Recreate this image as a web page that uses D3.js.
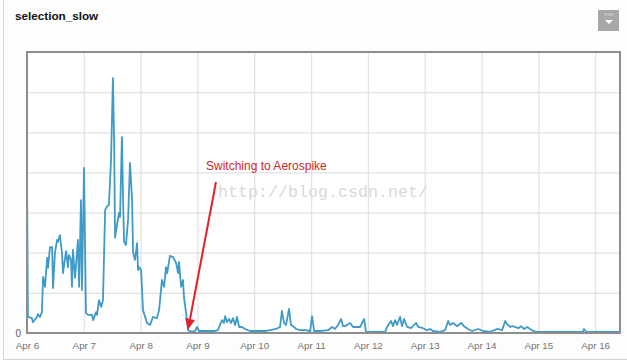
<!DOCTYPE html>
<html>
<head>
<meta charset="utf-8">
<script src="https://cdnjs.cloudflare.com/ajax/libs/d3/7.8.5/d3.min.js"></script>
<style>
  html, body { margin: 0; padding: 0; background: #fdfdfd; }
  svg { display: block; }
</style>
</head>
<body>
<svg id="chart" width="627" height="360"></svg>
<script>
// ---- data (hours since Apr 6 00:00, value in grid units) ----
const title = "selection_slow";
const hours = [0,0.4,2.1,2.5,4.2,4.6,5.5,6.3,6.8,7.6,8.5,8.9,9.7,10.6,11.0,11.8,12.7,13.1,13.9,14.8,15.2,16.5,17.3,17.7,18.6,19.0,19.4,20.3,21.5,22.0,22.8,23.2,24.1,24.9,25.8,27.5,27.9,29.2,29.6,30.4,31.3,32.1,33.0,33.8,34.6,35.5,36.3,36.8,37.2,38.0,38.9,39.3,40.1,40.6,41.0,41.8,42.7,43.5,44.4,44.8,45.6,46.5,46.9,47.3,48.2,49.0,50.7,52.0,53.2,54.9,55.8,57.0,57.9,58.7,59.2,60.4,61.7,63.0,63.8,64.2,65.1,65.9,66.3,67.6,68.0,69.7,71.0,71.8,72.7,75.2,79.4,80.7,81.5,82.4,83.2,83.7,84.5,85.3,86.2,87.0,87.9,88.7,89.6,90.8,92.1,94.2,97.6,100.6,102.7,105.2,106.9,107.7,108.6,109.4,110.7,111.5,112.4,113.7,115.3,117.5,119.6,120.4,121.3,123.8,127.2,128.9,130.1,131.4,132.7,133.5,134.4,135.6,136.5,137.7,140.7,142.4,143.2,147.0,151.3,152.1,153.8,154.6,155.5,156.3,157.6,158.4,159.3,160.6,162.2,164.4,165.2,167.3,169.0,170.3,171.5,174.5,176.6,177.9,178.7,180.0,181.7,183.4,184.6,186.3,188.0,190.6,192.7,195.6,198.6,200.7,202.0,202.8,204.1,204.9,206.2,207.5,208.7,210.0,211.3,212.5,213.8,215.1,234.9,235.3,236.2,250.5];
const values = [3.86,0.40,0.37,0.27,0.40,0.47,0.40,0.52,1.40,1.15,1.87,1.62,2.14,2.14,1.12,1.99,2.32,2.27,2.44,1.99,1.49,2.04,1.64,1.94,1.82,1.15,2.07,1.37,2.32,1.15,3.31,1.07,4.11,0.50,0.45,0.45,0.32,0.52,0.45,0.82,0.65,0.82,3.06,3.16,3.19,4.31,6.35,4.81,2.37,2.69,2.99,2.89,4.88,3.31,2.27,2.19,2.82,4.24,3.31,2.02,1.82,2.24,1.57,1.64,1.57,0.57,0.25,0.20,0.40,0.37,0.57,1.32,1.15,1.64,1.49,1.92,1.89,1.74,1.49,1.77,1.15,1.32,0.90,0.32,0.07,0.03,0.05,0.15,0.05,0.05,0.05,0.07,0.20,0.32,0.25,0.42,0.27,0.35,0.25,0.37,0.20,0.40,0.15,0.15,0.10,0.05,0.05,0.05,0.07,0.10,0.15,0.55,0.25,0.20,0.60,0.20,0.17,0.10,0.07,0.07,0.05,0.42,0.05,0.05,0.07,0.15,0.10,0.20,0.35,0.17,0.17,0.22,0.25,0.15,0.15,0.35,0.03,0.03,0.03,0.15,0.30,0.17,0.32,0.20,0.40,0.17,0.35,0.15,0.12,0.25,0.15,0.12,0.07,0.10,0.05,0.03,0.07,0.30,0.20,0.25,0.17,0.25,0.17,0.10,0.05,0.10,0.05,0.03,0.10,0.07,0.30,0.22,0.15,0.17,0.15,0.12,0.17,0.10,0.15,0.10,0.05,0.03,0.03,0.10,0.03,0.03];
const yTickValues = [0,1,2,3,4,5,6,7];
const yTickLabels = ["0","","","","","","",""];
const annotationText = "Switching to Aerospike";
const annotationHour = 68.0;
const watermark = "http://blog.csdn.net/";

// ---- layout ----
const svg = d3.select("#chart");
const plot = { left: 27, right: 620, top: 52, bottom: 333 };
const start = Date.UTC(2015, 3, 6);
const toDate = h => new Date(start + h * 3600e3);

const x = d3.scaleUtc()
  .domain([toDate(0), toDate(250.5)])
  .range([plot.left, plot.right]);
const y = d3.scaleLinear()
  .domain([0, 7])
  .range([plot.bottom, plot.top]);

// outer panel frame
svg.append("line").attr("x1", 3.5).attr("x2", 3.5).attr("y1", 0).attr("y2", 359)
  .attr("stroke", "#cfd3da").attr("stroke-width", 1);
svg.append("line").attr("x1", 3.5).attr("x2", 627).attr("y1", 359.5).attr("y2", 359.5)
  .attr("stroke", "#cfd3da").attr("stroke-width", 1);

// title
svg.append("text").attr("x", 15).attr("y", 20)
  .attr("font-family", "Liberation Sans, Arial, sans-serif")
  .attr("font-size", 11.7).attr("font-weight", "bold").attr("fill", "#111")
  .text(title);

// dropdown button
const btn = svg.append("g");
btn.append("rect").attr("x", 598).attr("y", 10).attr("width", 21).attr("height", 21)
  .attr("fill", "#a8a8a8");
btn.append("line").attr("x1", 604).attr("x2", 614).attr("y1", 14.5).attr("y2", 14.5)
  .attr("stroke", "#c4c4c4").attr("stroke-width", 2);
btn.append("path").attr("d", "M605,20 L613,20 L609,24 Z").attr("fill", "#fff");

// plot background
svg.append("rect").attr("x", plot.left).attr("y", plot.top)
  .attr("width", plot.right - plot.left).attr("height", plot.bottom - plot.top)
  .attr("fill", "#fff");

// grid
const xGrid = d3.axisBottom(x).ticks(d3.utcDay.every(1))
  .tickSize(-(plot.bottom - plot.top)).tickFormat("");
svg.append("g").attr("transform", `translate(0,${plot.bottom})`).call(xGrid)
  .call(g => g.select(".domain").remove())
  .call(g => g.selectAll("line").attr("stroke", "#e2e2e2").attr("stroke-width", 1.2));

const yGrid = d3.axisLeft(y).tickValues(yTickValues)
  .tickSize(-(plot.right - plot.left)).tickFormat("");
svg.append("g").attr("transform", `translate(${plot.left},0)`).call(yGrid)
  .call(g => g.select(".domain").remove())
  .call(g => g.selectAll("line").attr("stroke", "#e2e2e2").attr("stroke-width", 1.2));

// watermark
svg.append("text").attr("x", 218).attr("y", 197)
  .attr("font-family", "Liberation Mono, DejaVu Sans Mono, monospace")
  .attr("font-size", 17).attr("fill", "#d9d9d9")
  .attr("textLength", 210).attr("lengthAdjust", "spacingAndGlyphs")
  .text(watermark);

// series line
const line = d3.line()
  .x((d, i) => x(toDate(hours[i])))
  .y((d, i) => y(values[i]))
  .curve(d3.curveLinear);
svg.append("path").datum(values)
  .attr("d", line)
  .attr("fill", "none")
  .attr("stroke", "#3f9ac8")
  .attr("stroke-width", 1.8)
  .attr("stroke-linejoin", "round");

// plot frame
svg.append("rect").attr("x", plot.left).attr("y", plot.top)
  .attr("width", plot.right - plot.left).attr("height", plot.bottom - plot.top)
  .attr("fill", "none").attr("stroke", "#8e8e8e").attr("stroke-width", 2);

// x axis labels
const xAxis = d3.axisBottom(x).ticks(d3.utcDay.every(1))
  .tickSize(0).tickPadding(9).tickFormat(d3.utcFormat("%b %-d"));
svg.append("g").attr("transform", `translate(0,${plot.bottom})`).call(xAxis)
  .call(g => g.select(".domain").remove())
  .call(g => g.selectAll("text")
    .attr("font-family", "Liberation Sans, Arial, sans-serif")
    .attr("font-size", 9.8).attr("fill", "#747474"));

// y axis labels
const yAxis = d3.axisLeft(y).tickValues(yTickValues).tickSize(0).tickPadding(6)
  .tickFormat((d, i) => yTickLabels[i]);
svg.append("g").attr("transform", `translate(${plot.left},0)`).call(yAxis)
  .call(g => g.select(".domain").remove())
  .call(g => g.selectAll("text")
    .attr("font-family", "Liberation Sans, Arial, sans-serif")
    .attr("font-size", 10).attr("fill", "#606060"));

// annotation
svg.append("text").attr("x", 206).attr("y", 170)
  .attr("font-family", "Liberation Sans, Arial, sans-serif")
  .attr("font-size", 12).attr("fill", "#d0262b")
  .text(annotationText);
const tipX = x(toDate(annotationHour)), tipY = y(0.08);
const fromX = 216, fromY = 182;
const ang = Math.atan2(tipY - fromY, tipX - fromX);
const headLen = 11, headW = 5;
const bx = tipX - headLen * Math.cos(ang), by = tipY - headLen * Math.sin(ang);
svg.append("line").attr("x1", fromX).attr("y1", fromY).attr("x2", bx).attr("y2", by)
  .attr("stroke", "#e0232a").attr("stroke-width", 2);
svg.append("path")
  .attr("d", `M${tipX},${tipY} L${bx + headW * Math.sin(ang)},${by - headW * Math.cos(ang)} L${bx - headW * Math.sin(ang)},${by + headW * Math.cos(ang)} Z`)
  .attr("fill", "#e0232a");
</script>
</body>
</html>
